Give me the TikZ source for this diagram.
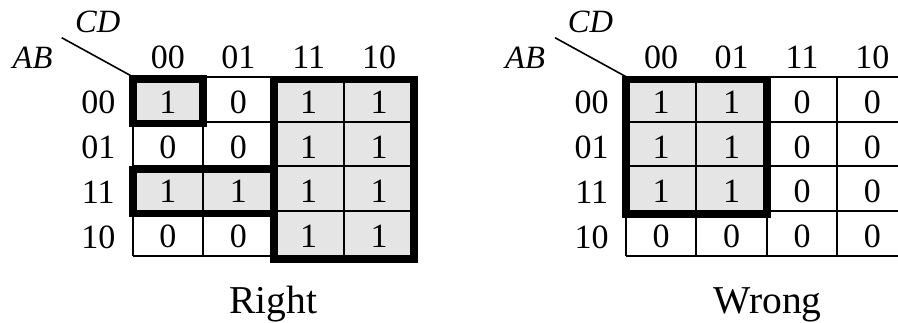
\documentclass[tikz,border=0pt]{standalone}
\usepackage{fontspec}
\setmainfont{Liberation Serif}
\begin{document}
\begin{tikzpicture}[x=1pt,y=-1pt,
  gridline/.style={line width=2pt},
  groupbox/.style={line width=7.4pt, line join=miter},
  shade/.style={fill=gray!20},
  txt/.style={inner sep=0pt, font=\fontsize{34}{38}\selectfont},
  var/.style={inner sep=0pt, font=\fontsize{32.5}{36}\selectfont\itshape},
  capt/.style={inner sep=0pt, anchor=base, font=\fontsize{39.5}{44}\selectfont}]
\useasboundingbox (0,0) rectangle (898,322);
\clip (0,0) rectangle (898,322);
% shading
\fill[shade] (132.7,76.7) rectangle (203.1,121.5);
\fill[shade] (132.7,166.3) rectangle (273.5,211.1);
\fill[shade] (273.5,76.7) rectangle (414.3,255.9);
\fill[shade] (626,76.7) rectangle (766.8,211.1);
% grids
\foreach \i in {0,...,4} {
  \draw[gridline] ({132.7+\i*70.4},76.7) -- ({132.7+\i*70.4},255.9);
  \draw[gridline] (132.7,{76.7+\i*44.8}) -- (414.3,{76.7+\i*44.8});
  \draw[gridline] ({626+\i*70.4},76.7) -- ({626+\i*70.4},255.9);
  \draw[gridline] (626,{76.7+\i*44.8}) -- (907.6,{76.7+\i*44.8});
}
% group boxes
\draw[groupbox] (133,79) rectangle (203,123.3);
\draw[groupbox] (133,169.3) rectangle (274,213.7);
\draw[groupbox] (274,79.3) rectangle (413.8,258.8);
\draw[groupbox] (626,79.3) rectangle (767,214);
% cell values
\foreach \row [count=\r from 0] in {{1,0,1,1},{0,0,1,1},{1,1,1,1},{0,0,1,1}} {
  \foreach \v [count=\c from 0] in \row {
    \node[txt] (L\r\c) at ({167.9+\c*70.4},{102.1+\r*44.8}) {\v};
  }
}
\foreach \row [count=\r from 0] in {{1,1,0,0},{1,1,0,0},{1,1,0,0},{0,0,0,0}} {
  \foreach \v [count=\c from 0] in \row {
    \node[txt] (R\r\c) at ({661.2+\c*70.4},{102.1+\r*44.8}) {\v};
  }
}
% column and row labels
\foreach \lab [count=\c from 0] in {00,01,11,10} {
  \node[txt] (Lcol\c) at ({167.9+\c*70.4},57.5) {\lab};
  \node[txt] (Rcol\c) at ({661.2+\c*70.4},57.5) {\lab};
  \node[txt] (Lrow\c) at (98.3,{102.8+\c*44.8}) {\lab};
  \node[txt] (Rrow\c) at (591.7,{102.8+\c*44.8}) {\lab};
}
% variable labels
\node[var] (LCD) at (97.7,21.7) {CD};
\node[var] (LAB) at (32.5,58.3) {AB};
\node[var] (RCD) at (590.5,21.7) {CD};
\node[var] (RAB) at (525,58.3) {AB};
\coordinate (Ld1) at (61.7,37.7);
\coordinate (Ld2) at (132.7,76.7);
\coordinate (Rd1) at (555,37.7);
\coordinate (Rd2) at (626,76.7);
\draw[line width=1.6pt] (Ld1) -- (Ld2);
\draw[line width=1.6pt] (Rd1) -- (Rd2);
% captions
\node[capt] (Lcap) at (273.3,313.3) {Right};
\node[capt] (Rcap) at (767.5,313.3) {Wrong};
\end{tikzpicture}
\end{document}
